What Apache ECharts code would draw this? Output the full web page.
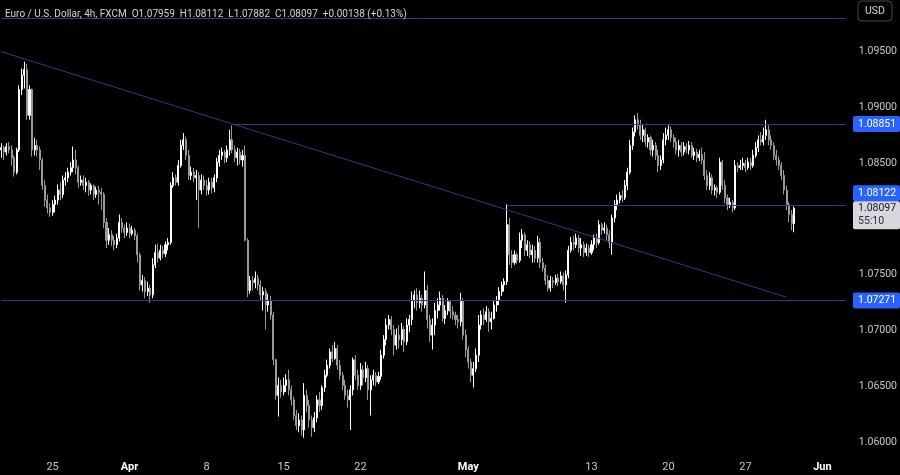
<!DOCTYPE html>
<html><head><meta charset="utf-8">
<script src="https://cdn.jsdelivr.net/npm/echarts@6/dist/echarts.min.js"></script>
<style>html,body{margin:0;padding:0;background:#000;}#c{width:900px;height:475px;}</style>
</head><body><div id="c"></div>
<script>
// ---------- data ----------
const headerText = 'Euro / U.S. Dollar, 4h, FXCM  O1.07959  H1.08112  L1.07882  C1.08097  +0.00138 (+0.13%)';
const currency = 'USD';
const firstOpen = 1.0862;
const closes = [
1.0864,1.0860,1.0865,1.0862,1.0855,1.0842,1.0862,1.0916,1.0929,1.0934,
1.0893,1.0916,1.0862,1.0866,1.0862,1.0853,1.0830,1.0817,1.0810,1.0806,
1.0813,1.0817,1.0826,1.0822,1.0835,1.0837,1.0842,1.0846,1.0853,1.0846,
1.0833,1.0835,1.0830,1.0833,1.0826,1.0830,1.0822,1.0826,1.0824,1.0822,
1.0797,1.0781,1.0786,1.0781,1.0777,1.0783,1.0797,1.0792,1.0788,1.0792,
1.0787,1.0790,1.0785,1.0768,1.0741,1.0745,1.0735,1.0738,1.0732,1.0759,
1.0770,1.0765,1.0772,1.0769,1.0777,1.0779,1.0830,1.0837,1.0833,1.0848,
1.0866,1.0871,1.0857,1.0839,1.0842,1.0837,1.0839,1.0826,1.0835,1.0830,
1.0826,1.0833,1.0828,1.0837,1.0851,1.0857,1.0860,1.0855,1.0862,1.0871,
1.0862,1.0855,1.0860,1.0853,1.0857,1.0781,1.0736,1.0745,1.0743,1.0747,
1.0741,1.0732,1.0735,1.0723,1.0727,1.0714,1.0674,1.0642,1.0651,1.0645,
1.0651,1.0656,1.0647,1.0638,1.0624,1.0615,1.0620,1.0611,1.0642,1.0633,
1.0620,1.0613,1.0622,1.0638,1.0633,1.0649,1.0660,1.0669,1.0681,1.0675,
1.0684,1.0669,1.0660,1.0651,1.0642,1.0638,1.0647,1.0674,1.0660,1.0651,
1.0665,1.0658,1.0666,1.0647,1.0656,1.0660,1.0654,1.0659,1.0678,1.0692,
1.0705,1.0710,1.0701,1.0687,1.0696,1.0692,1.0701,1.0690,1.0705,1.0710,
1.0727,1.0732,1.0725,1.0729,1.0723,1.0736,1.0710,1.0696,1.0705,1.0718,
1.0723,1.0729,1.0711,1.0718,1.0726,1.0717,1.0714,1.0710,1.0708,1.0727,
1.0696,1.0683,1.0672,1.0660,1.0666,1.0678,1.0705,1.0714,1.0710,1.0717,
1.0708,1.0711,1.0723,1.0727,1.0735,1.0741,1.0744,1.0795,1.0768,1.0761,
1.0768,1.0763,1.0781,1.0786,1.0772,1.0777,1.0768,1.0772,1.0765,1.0779,
1.0761,1.0756,1.0745,1.0738,1.0745,1.0743,1.0747,1.0744,1.0749,1.0741,
1.0750,1.0772,1.0779,1.0777,1.0783,1.0774,1.0777,1.0770,1.0774,1.0770,
1.0777,1.0783,1.0779,1.0795,1.0790,1.0792,1.0786,1.0779,1.0801,1.0813,
1.0817,1.0821,1.0819,1.0830,1.0842,1.0866,1.0878,1.0889,1.0884,1.0875,
1.0880,1.0869,1.0873,1.0862,1.0866,1.0857,1.0848,1.0853,1.0871,1.0875,
1.0880,1.0873,1.0869,1.0862,1.0866,1.0860,1.0865,1.0862,1.0866,1.0857,
1.0860,1.0855,1.0858,1.0853,1.0839,1.0830,1.0837,1.0826,1.0828,1.0824,
1.0851,1.0830,1.0819,1.0813,1.0815,1.0810,1.0848,1.0846,1.0848,1.0850,
1.0846,1.0851,1.0848,1.0857,1.0864,1.0871,1.0869,1.0875,1.0880,1.0871,
1.0866,1.0857,1.0853,1.0848,1.0839,1.0826,1.0813,1.0804,1.07959,1.08097
];
const highs = [
1.0868,1.0866,1.0868,1.0869,1.0866,1.0857,1.0864,1.0920,1.0935,1.0941,
1.0939,1.0920,1.0917,1.0873,1.0871,1.0865,1.0855,1.0835,1.0822,1.0814,
1.0817,1.0821,1.0831,1.0833,1.0839,1.0842,1.0846,1.0851,1.0865,1.0862,
1.0848,1.0839,1.0839,1.0837,1.0835,1.0832,1.0831,1.0829,1.0830,1.0828,
1.0824,1.0801,1.0792,1.0790,1.0785,1.0787,1.0804,1.0801,1.0795,1.0797,
1.0796,1.0794,1.0792,1.0787,1.0770,1.0750,1.0748,1.0744,1.0741,1.0765,
1.0777,1.0778,1.0777,1.0776,1.0780,1.0783,1.0833,1.0842,1.0840,1.0853,
1.0871,1.0877,1.0874,1.0862,1.0847,1.0846,1.0844,1.0842,1.0840,1.0839,
1.0835,1.0837,1.0837,1.0840,1.0855,1.0862,1.0864,1.0862,1.0866,1.0880,
1.0884,1.0866,1.0864,1.0863,1.0862,1.0866,1.0783,1.0749,1.0749,1.0753,
1.0750,1.0745,1.0739,1.0738,1.0733,1.0731,1.0717,1.0675,1.0658,1.0656,
1.0658,1.0661,1.0665,1.0651,1.0641,1.0629,1.0626,1.0624,1.0653,1.0647,
1.0638,1.0624,1.0627,1.0642,1.0645,1.0651,1.0665,1.0674,1.0684,1.0687,
1.0690,1.0687,1.0674,1.0663,1.0656,1.0647,1.0651,1.0676,1.0678,1.0665,
1.0671,1.0669,1.0672,1.0669,1.0660,1.0665,1.0663,1.0663,1.0683,1.0696,
1.0711,1.0714,1.0713,1.0705,1.0702,1.0705,1.0707,1.0704,1.0711,1.0714,
1.0735,1.0736,1.0738,1.0736,1.0732,1.0753,1.0741,1.0714,1.0711,1.0725,
1.0729,1.0735,1.0732,1.0723,1.0729,1.0727,1.0722,1.0717,1.0714,1.0734,
1.0729,1.0701,1.0686,1.0675,1.0672,1.0684,1.0714,1.0718,1.0720,1.0722,
1.0720,1.0717,1.0727,1.0731,1.0739,1.0744,1.0747,1.0813,1.0801,1.0772,
1.0772,1.0770,1.0788,1.0791,1.0788,1.0781,1.0780,1.0777,1.0776,1.0785,
1.0783,1.0765,1.0759,1.0750,1.0749,1.0748,1.0750,1.0751,1.0753,1.0752,
1.0754,1.0776,1.0784,1.0785,1.0787,1.0786,1.0783,1.0780,1.0778,1.0777,
1.0781,1.0786,1.0787,1.0799,1.0797,1.0797,1.0795,1.0790,1.0804,1.0817,
1.0822,1.0824,1.0826,1.0835,1.0846,1.0871,1.0882,1.0893,1.0895,1.0889,
1.0885,1.0882,1.0876,1.0875,1.0871,1.0869,1.0862,1.0857,1.0877,1.0882,
1.0884,1.0883,1.0876,1.0873,1.0871,1.0869,1.0869,1.0868,1.0870,1.0869,
1.0864,1.0863,1.0862,1.0864,1.0860,1.0844,1.0842,1.0840,1.0831,1.0830,
1.0855,1.0853,1.0835,1.0822,1.0819,1.0817,1.0853,1.0851,1.0853,1.0855,
1.0853,1.0855,1.0855,1.0862,1.0869,1.0875,1.0878,1.0882,1.0889,1.0884,
1.0875,1.0869,1.0862,1.0856,1.0851,1.0844,1.0830,1.0815,1.0808,1.08112
];
const lows = [
1.0855,1.0853,1.0857,1.0859,1.0848,1.0838,1.0840,1.0860,1.0911,1.0917,
1.0889,1.0889,1.0856,1.0857,1.0856,1.0844,1.0826,1.0811,1.0805,1.0802,
1.0803,1.0806,1.0813,1.0817,1.0819,1.0830,1.0833,1.0839,1.0842,1.0840,
1.0828,1.0830,1.0826,1.0824,1.0821,1.0822,1.0817,1.0819,1.0813,1.0808,
1.0792,1.0774,1.0777,1.0776,1.0772,1.0774,1.0780,1.0788,1.0783,1.0785,
1.0783,1.0785,1.0781,1.0761,1.0736,1.0735,1.0729,1.0731,1.0725,1.0729,
1.0756,1.0761,1.0763,1.0765,1.0766,1.0772,1.0777,1.0828,1.0830,1.0830,
1.0846,1.0862,1.0853,1.0835,1.0835,1.0833,1.0817,1.0792,1.0822,1.0826,
1.0821,1.0822,1.0823,1.0824,1.0833,1.0847,1.0853,1.0850,1.0851,1.0857,
1.0859,1.0851,1.0848,1.0849,1.0847,1.0780,1.0730,1.0733,1.0736,1.0738,
1.0736,1.0727,1.0718,1.0701,1.0717,1.0710,1.0669,1.0638,1.0623,1.0640,
1.0642,1.0645,1.0642,1.0633,1.0620,1.0611,1.0609,1.0606,1.0604,1.0627,
1.0613,1.0605,1.0609,1.0618,1.0627,1.0629,1.0645,1.0658,1.0666,1.0672,
1.0674,1.0665,1.0656,1.0647,1.0638,1.0631,1.0611,1.0642,1.0656,1.0647,
1.0647,1.0651,1.0654,1.0638,1.0624,1.0651,1.0650,1.0652,1.0656,1.0675,
1.0687,1.0701,1.0696,1.0678,1.0683,1.0684,1.0687,1.0681,1.0687,1.0699,
1.0705,1.0720,1.0718,1.0720,1.0717,1.0720,1.0702,1.0690,1.0683,1.0696,
1.0711,1.0718,1.0708,1.0706,1.0714,1.0711,1.0710,1.0705,1.0702,1.0704,
1.0692,1.0676,1.0666,1.0654,1.0649,1.0663,1.0672,1.0701,1.0705,1.0708,
1.0699,1.0701,1.0710,1.0717,1.0723,1.0731,1.0735,1.0741,1.0759,1.0756,
1.0759,1.0760,1.0761,1.0774,1.0767,1.0767,1.0765,1.0761,1.0761,1.0761,
1.0756,1.0753,1.0741,1.0735,1.0735,1.0738,1.0741,1.0740,1.0742,1.0736,
1.0725,1.0747,1.0770,1.0772,1.0774,1.0770,1.0767,1.0766,1.0767,1.0766,
1.0768,1.0772,1.0774,1.0777,1.0786,1.0787,1.0781,1.0774,1.0768,1.0797,
1.0808,1.0814,1.0815,1.0817,1.0826,1.0840,1.0862,1.0874,1.0880,1.0871,
1.0869,1.0865,1.0864,1.0857,1.0856,1.0853,1.0842,1.0844,1.0850,1.0866,
1.0871,1.0869,1.0864,1.0858,1.0856,1.0856,1.0857,1.0859,1.0858,1.0855,
1.0853,1.0851,1.0852,1.0849,1.0835,1.0826,1.0826,1.0822,1.0821,1.0819,
1.0822,1.0826,1.0814,1.0808,1.0810,1.0806,1.0808,1.0842,1.0844,1.0844,
1.0842,1.0844,1.0844,1.0846,1.0855,1.0860,1.0866,1.0866,1.0871,1.0866,
1.0862,1.0853,1.0848,1.0844,1.0835,1.0822,1.0808,1.0797,1.0790,1.07882
];
// x-axis tick labels (first bar of the day)
const tickDates  = ['2024-03-25','2024-04-01','2024-04-08','2024-04-15','2024-04-22','2024-05-01','2024-05-13','2024-05-20','2024-05-27','2024-06-03'];
const tickTexts  = ['25','Apr','8','15','22','May','13','20','27','Jun'];
const monthTicks = ['Apr','May','Jun'];
// y-axis tick labels
const priceTicks = [1.060,1.065,1.070,1.075,1.080,1.085,1.090,1.095];
const priceMin = 1.05886, priceMax = 1.09963;
// drawn levels: value and bar index where the ray starts
const levelValues = [1.0980, 1.08851, 1.08122, 1.07271];
const levelStarts = [0, 90, 197, 0];
const taggedLevels = [1.08851, 1.08122, 1.07271];
// trendline anchors: [bar index, price]
const trendStart = [0, 1.0950];
const trendEnd = [306, 1.0730];
const lastPrice = 1.08097;
const countdown = '55:10';
const totalSlots = 330;

// ---------- categories: 4h bars, weekdays only ----------
const categories = [];
(function () {
  let d = new Date(Date.UTC(2024, 2, 19));
  const hrs = [0, 4, 8, 12, 16, 20];
  let first = true;
  while (categories.length < totalSlots) {
    const wd = d.getUTCDay();
    if (wd !== 0 && wd !== 6) {
      for (const h of hrs) {
        if (first && h < 16) continue;
        categories.push(d.toISOString().slice(0, 10) + ' ' + String(h).padStart(2, '0') + ':00');
      }
      first = false;
    }
    d = new Date(d.getTime() + 86400000);
  }
  categories.length = totalSlots;
})();
const tickMap = {};
tickDates.forEach((d, i) => tickMap[d] = tickTexts[i]);
const isTick = v => v.endsWith(' 00:00') && tickMap[v.slice(0, 10)] !== undefined;

const candles = closes.map((c, i) => [i === 0 ? firstOpen : closes[i - 1], c, lows[i], highs[i]]);

const LINE = '#313c86';
const FONT = 'Roboto, "Liberation Sans", sans-serif';
const lastIdx = totalSlots - 1;

const markData = levelValues.map((v, i) => [{ coord: [levelStarts[i], v] }, { coord: [lastIdx, v] }]);
markData.push([{ coord: trendStart }, { coord: trendEnd }]);

const option = {
  backgroundColor: '#000000',
  animation: false,
  title: {
    text: headerText, left: 0, top: 4,
    textStyle: { color: '#d1d4dc', fontSize: 10, fontWeight: 'normal', fontFamily: FONT }
  },
  grid: { left: 0, right: 50, top: 0, bottom: 20 },
  xAxis: {
    type: 'category', data: categories, boundaryGap: true,
    axisLine: { show: false }, axisTick: { show: false }, splitLine: { show: false },
    axisLabel: {
      interval: (idx, v) => isTick(v),
      formatter: v => { const t = tickMap[v.slice(0, 10)]; return monthTicks.includes(t) ? '{m|' + t + '}' : t; },
      color: '#c8cad0', fontSize: 11, fontFamily: FONT, margin: 7,
      rich: { m: { color: '#ffffff', fontWeight: 'bold', fontSize: 11, fontFamily: FONT } }
    }
  },
  yAxis: {
    type: 'value', position: 'right', min: priceMin, max: priceMax, scale: true,
    axisLine: { show: false }, axisTick: { show: false }, splitLine: { show: false },
    axisLabel: {
      customValues: priceTicks,
      formatter: v => v.toFixed(5),
      color: '#c8cad0', fontSize: 10.5, fontFamily: FONT, margin: 12
    }
  },
  series: [{
    type: 'candlestick', data: candles, barWidth: '60%',
    itemStyle: { color: '#ffffff', color0: '#9a9a9a', borderColor: '#ffffff', borderColor0: '#9a9a9a', borderWidth: 1 },
    markLine: {
      silent: true, symbol: ['none', 'none'], animation: false,
      label: { show: false },
      lineStyle: { color: LINE, width: 1, type: 'solid', opacity: 1 },
      emphasis: { disabled: true },
      data: markData
    }
  }]
};

const chart = echarts.init(document.getElementById('c'));
chart.setOption(option);

// price tags on the right axis
const yOf = v => chart.convertToPixel({ yAxisIndex: 0 }, v);
const tagX = 853, tagW = 47, tagH = 16;
const yLast = yOf(lastPrice);
const lastTop = yLast - 7, lastH = 28;
const g = [];
taggedLevels.forEach(v => {
  let top = yOf(v) - tagH / 2;
  if (top + tagH > lastTop && top < lastTop + lastH) top = lastTop - tagH;
  g.push({ type: 'rect', shape: { x: tagX, y: top, width: tagW, height: tagH, r: 2 }, style: { fill: '#2962ff' }, z: 10 });
  g.push({ type: 'text', style: { text: v.toFixed(5), x: tagX + 5, y: top + tagH / 2, fill: '#ffffff', font: '10.5px ' + FONT, textVerticalAlign: 'middle', verticalAlign: 'middle' }, z: 11 });
});
g.push({ type: 'rect', shape: { x: tagX, y: lastTop, width: tagW, height: lastH, r: 2 }, style: { fill: '#d6d8de' }, z: 10 });
g.push({ type: 'text', style: { text: lastPrice.toFixed(5), x: tagX + 5, y: lastTop + 7.5, fill: '#131722', font: '10.5px ' + FONT, textVerticalAlign: 'middle', verticalAlign: 'middle' }, z: 11 });
g.push({ type: 'text', style: { text: countdown, x: tagX + 5, y: lastTop + 20.5, fill: '#2a2e39', font: '10.5px ' + FONT, textVerticalAlign: 'middle', verticalAlign: 'middle' }, z: 11 });
// currency button
g.push({ type: 'rect', shape: { x: 858, y: 1, width: 34, height: 20, r: 4 }, style: { fill: '#000', stroke: '#434651', lineWidth: 1 }, z: 10 });
g.push({ type: 'text', style: { text: currency, x: 875, y: 11, fill: '#d1d4dc', font: '10.5px ' + FONT, textAlign: 'center', align: 'center', textVerticalAlign: 'middle', verticalAlign: 'middle' }, z: 11 });
chart.setOption({ graphic: g });
</script>
</body></html>
